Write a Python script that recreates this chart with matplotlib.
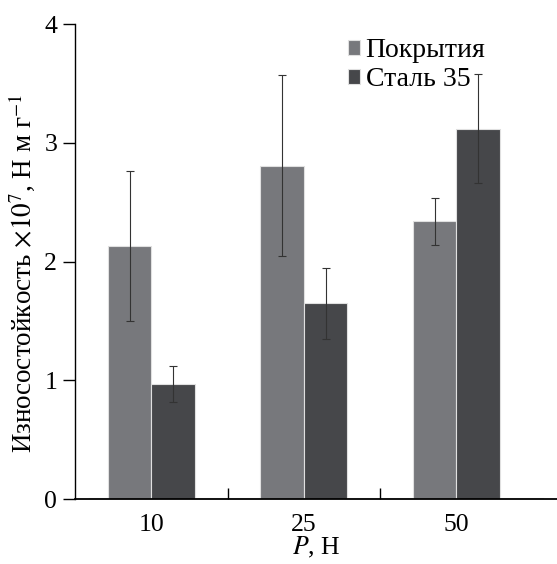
import numpy as np
import matplotlib.pyplot as plt
from matplotlib.font_manager import FontProperties

# данные
nagruzki = ['10', '25', '50']
pokrytiya = [2.13, 2.81, 2.34]
pokrytiya_err = [0.63, 0.76, 0.20]
stal35 = [0.97, 1.65, 3.12]
stal35_err = [0.15, 0.30, 0.46]

SHRIFT = 'Liberation Serif'
plt.rcParams['font.family'] = SHRIFT
plt.rcParams['mathtext.fontset'] = 'stix'

fig = plt.figure(figsize=(5.57, 5.64), dpi=100)
ax = fig.add_axes([0.135, 0.115, 0.865, 0.842])

x = np.arange(len(nagruzki))
w = 0.285
ax.axhline(0, xmin=0.03, xmax=0.97, color='#d8d8d8', lw=1.5, zorder=1)
ax.bar(x - w/2, pokrytiya, w, color='#77787c', edgecolor='#e0e0e0', lw=0.8,
       label='Покрытия', zorder=2)
ax.bar(x + w/2, stal35, w, color='#46474a', edgecolor='#e0e0e0', lw=0.8,
       label='Сталь 35', zorder=2)
ax.errorbar(x - w/2, pokrytiya, yerr=pokrytiya_err, fmt='none', ecolor='#333333',
            elinewidth=0.8, capsize=3, capthick=0.8, zorder=3)
ax.errorbar(x + w/2, stal35, yerr=stal35_err, fmt='none', ecolor='#333333',
            elinewidth=0.8, capsize=3, capthick=0.8, zorder=3)

ax.set_xlim(-0.5, 2.66)
ax.set_ylim(0, 4)
ax.set_yticks([0, 1, 2, 3, 4])
ax.set_yticklabels(['0', '1', '2', '3', '4'], family=SHRIFT, fontsize=18.5)
ax.set_xticks(x)
ax.set_xticklabels(nagruzki, family=SHRIFT, fontsize=18.5)
ax.set_xticks([0.5, 1.5], minor=True)
ax.tick_params(axis='x', which='major', length=0, pad=11)
ax.tick_params(axis='x', which='minor', direction='in', length=8, width=1)
ax.tick_params(axis='y', direction='out', length=9, width=1, pad=4)
for s in ['top', 'right']:
    ax.spines[s].set_visible(False)
ax.spines['left'].set_linewidth(1)
ax.spines['bottom'].set_linewidth(1.3)

ax.set_xlabel('$P$, Н', family=SHRIFT, fontsize=18.5, labelpad=-1)
ax.set_ylabel('Износостойкость $\\times10^7$, Н м г$^{-1}$', family=SHRIFT,
              fontsize=19.5)
ax.yaxis.set_label_coords(-0.08, 0.476)

ax.legend(loc='upper left', bbox_to_anchor=(0.525, 1.012), frameon=False,
          prop=FontProperties(family=SHRIFT, size=20),
          handlelength=0.45, handleheight=0.45, handletextpad=0.2, labelspacing=0.15,
          borderaxespad=0.3)

fig.savefig('out.png', dpi=100)
